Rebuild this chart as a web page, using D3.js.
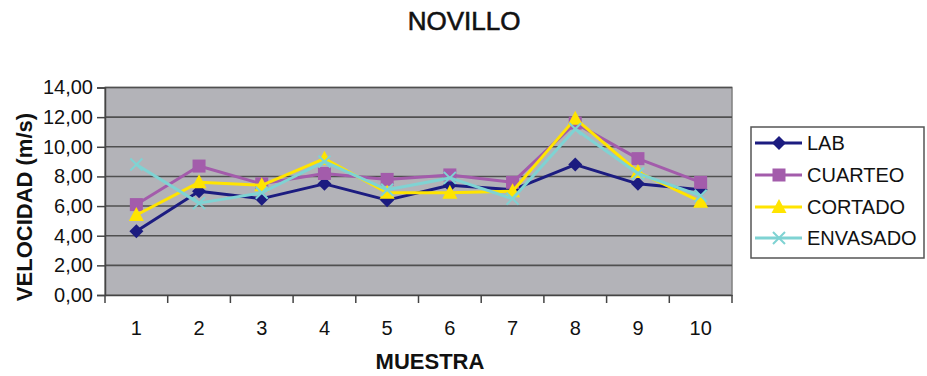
<!DOCTYPE html>
<html>
<head>
<meta charset="utf-8">
<script src="https://cdn.jsdelivr.net/npm/d3@7"></script>
<style>
  body { margin: 0; background: #ffffff; }
  text { font-family: "Liberation Sans", Arial, sans-serif; fill: #111; }
</style>
</head>
<body>
<svg id="chart" width="927" height="376"></svg>
<script>
// Sample numbers (x categories)
const muestras = ["1", "2", "3", "4", "5", "6", "7", "8", "9", "10"];

// Velocity (m/s) per processing stage
const lab      = [4.3, 7.0, 6.5, 7.5, 6.4, 7.4, 7.1, 8.8, 7.5, 7.1];
const cuarteo  = [6.1, 8.7, 7.5, 8.2, 7.8, 8.1, 7.6, 11.6, 9.2, 7.6];
const cortado  = [5.4, 7.6, 7.4, 9.2, 6.9, 6.9, 7.0, 11.9, 8.3, 6.3];
const envasado = [8.8, 6.2, 6.9, 9.0, 7.1, 7.9, 6.5, 11.2, 8.2, 6.7];

const yTicks = [0, 2, 4, 6, 8, 10, 12, 14];

const series = [
  { name: "LAB",      values: lab,      color: "#1c1c80", marker: "diamond" },
  { name: "CUARTEO",  values: cuarteo,  color: "#a35cab", marker: "square" },
  { name: "CORTADO",  values: cortado,  color: "#ffe400", marker: "triangle" },
  { name: "ENVASADO", values: envasado, color: "#7fd3d3", marker: "x" }
];

const svg = d3.select("#chart");
const plot = { left: 105, right: 732, top: 87.5, bottom: 295 };

const x = d3.scaleBand().domain(muestras).range([plot.left, plot.right]);
const y = d3.scaleLinear().domain([0, 14]).range([plot.bottom, plot.top]);

const fmt = v => d3.format(".2f")(v).replace(".", ",");

// Title
svg.append("text")
  .attr("x", 464).attr("y", 30)
  .attr("text-anchor", "middle")
  .style("font-size", "26px")
  .attr("stroke", "#111").attr("stroke-width", 0.6)
  .text("NOVILLO");

// Plot background
svg.append("rect")
  .attr("x", plot.left).attr("y", plot.top)
  .attr("width", plot.right - plot.left).attr("height", plot.bottom - plot.top)
  .attr("fill", "#b3b3b8")
  .attr("stroke", "#808080").attr("stroke-width", 1.5);

// Horizontal gridlines
svg.append("g").selectAll("line")
  .data(yTicks.filter(d => d > 0))
  .join("line")
  .attr("x1", plot.left).attr("x2", plot.right)
  .attr("y1", d => y(d)).attr("y2", d => y(d))
  .attr("stroke", "#505050").attr("stroke-width", 1.6);

// Y axis
const yAxis = svg.append("g")
  .attr("transform", `translate(${plot.left},0)`)
  .call(d3.axisLeft(y).tickValues(yTicks).tickFormat(fmt).tickSize(8).tickPadding(4));
yAxis.select(".domain").attr("stroke", "#444").attr("stroke-width", 1.5);
yAxis.selectAll(".tick line").attr("stroke", "#444").attr("stroke-width", 1.5);
yAxis.selectAll(".tick text")
  .style("font-size", "20px").style("font-family", "Liberation Sans, Arial, sans-serif")
  .attr("fill", "#222");

// X axis: labels at category centres, tick marks between categories
const xAxis = svg.append("g")
  .attr("transform", `translate(0,${plot.bottom})`)
  .call(d3.axisBottom(x).tickSize(0).tickPadding(26));
xAxis.select(".domain").attr("stroke", "#444").attr("stroke-width", 1.5);
xAxis.selectAll(".tick text")
  .style("font-size", "20px").style("font-family", "Liberation Sans, Arial, sans-serif")
  .attr("fill", "#222");
const bounds = muestras.map(m => x(m)).concat([x(muestras[muestras.length - 1]) + x.bandwidth()]);
svg.append("g").selectAll("line")
  .data(bounds)
  .join("line")
  .attr("x1", d => d).attr("x2", d => d)
  .attr("y1", plot.bottom).attr("y2", plot.bottom + 8)
  .attr("stroke", "#444").attr("stroke-width", 1.5);

// Axis titles
svg.append("text")
  .attr("x", 430).attr("y", 369)
  .attr("text-anchor", "middle")
  .style("font-size", "22px").style("font-weight", "bold")
  .text("MUESTRA");

svg.append("text")
  .attr("transform", "translate(32,207) rotate(-90)")
  .attr("text-anchor", "middle")
  .style("font-size", "22px").style("font-weight", "bold")
  .text("VELOCIDAD (m/s)");

// Marker drawing
function drawMarker(g, type, color) {
  if (type === "diamond") {
    g.append("path").attr("d", "M0,-7L7,0L0,7L-7,0Z").attr("fill", color);
  } else if (type === "square") {
    g.append("rect").attr("x", -6.5).attr("y", -6.5).attr("width", 13).attr("height", 13).attr("fill", color);
  } else if (type === "triangle") {
    g.append("path").attr("d", "M0,-8L7.5,6L-7.5,6Z").attr("fill", color);
  } else {
    g.append("path").attr("d", "M-6,-6L6,6M-6,6L6,-6")
      .attr("stroke", color).attr("stroke-width", 2).attr("fill", "none");
  }
}

const cx = i => x(muestras[i]) + x.bandwidth() / 2;
const line = d3.line().x((d, i) => cx(i)).y(d => y(d));

series.forEach(s => {
  const g = svg.append("g");
  g.append("path")
    .datum(s.values)
    .attr("d", line)
    .attr("fill", "none")
    .attr("stroke", s.color)
    .attr("stroke-width", 3)
    .attr("stroke-linejoin", "round");
  s.values.forEach((v, i) => {
    const m = g.append("g").attr("transform", `translate(${cx(i)},${y(v)})`);
    drawMarker(m, s.marker, s.color);
  });
});

// Legend
const legend = svg.append("g");
legend.append("rect")
  .attr("x", 751).attr("y", 127).attr("width", 173).attr("height", 131)
  .attr("fill", "#ffffff").attr("stroke", "#555").attr("stroke-width", 1.5);
const legendY = [143, 175, 207, 238];
series.forEach((s, i) => {
  const ly = legendY[i];
  legend.append("line")
    .attr("x1", 755).attr("x2", 802).attr("y1", ly).attr("y2", ly)
    .attr("stroke", s.color).attr("stroke-width", 3);
  const m = legend.append("g").attr("transform", `translate(779,${ly})`);
  drawMarker(m, s.marker, s.color);
  legend.append("text")
    .attr("x", 807).attr("y", ly)
    .attr("dominant-baseline", "central")
    .style("font-size", "20px")
    .attr("fill", "#222")
    .text(s.name);
});
</script>
</body>
</html>
